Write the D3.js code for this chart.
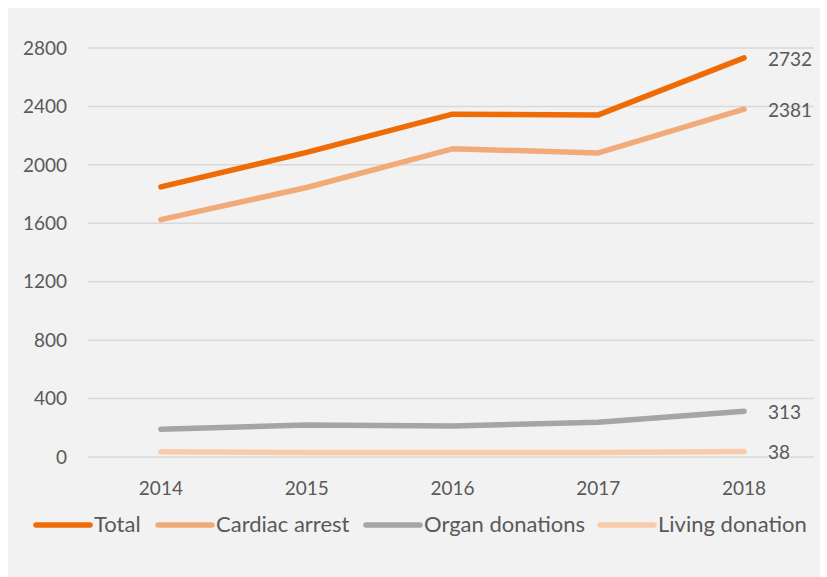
<!DOCTYPE html>
<html>
<head>
<meta charset="utf-8">
<script src="https://cdn.jsdelivr.net/npm/d3@7"></script>
<style>
  body { margin: 0; background: #fff; }
  text { font-family: Lato, "Open Sans", sans-serif; fill: #595959; }
</style>
</head>
<body>
<svg width="827" height="577"></svg>
<script>
const years = ["2014", "2015", "2016", "2017", "2018"];
const total = [1849, 2085, 2347, 2342, 2732];
const cardiac = [1625, 1845, 2110, 2082, 2381];
const organ = [190, 219, 212, 238, 313];
const living = [36, 30, 31, 30, 38];
const yTicks = [0, 400, 800, 1200, 1600, 2000, 2400, 2800];

const series = [
  { name: "Total", values: total, color: "#ee6b05" },
  { name: "Cardiac arrest", values: cardiac, color: "#f1ab79" },
  { name: "Organ donations", values: organ, color: "#a5a5a5" },
  { name: "Living donation", values: living, color: "#f8cbad" }
];

const svg = d3.select("svg");

svg.append("rect")
  .attr("x", 8).attr("y", 8)
  .attr("width", 812).attr("height", 569)
  .attr("fill", "#f2f2f2");

const x = d3.scaleBand()
  .domain(years)
  .range([88, 817]);

const y = d3.scaleLinear()
  .domain([0, 2800])
  .range([457, 48]);

// gridlines
svg.append("g")
  .selectAll("line")
  .data(yTicks)
  .enter().append("line")
  .attr("x1", 88).attr("x2", 814)
  .attr("y1", d => y(d)).attr("y2", d => y(d))
  .style("stroke", "#d9d9d9")
  .style("stroke-width", "1.5px");

// y labels
svg.append("g")
  .selectAll("text")
  .data(yTicks)
  .enter().append("text")
  .attr("x", 67)
  .attr("y", d => y(d))
  .attr("dy", ".35em")
  .attr("text-anchor", "end")
  .style("font-size", "19px")
  .text(d => d);

// x labels
svg.append("g")
  .selectAll("text")
  .data(years)
  .enter().append("text")
  .attr("x", d => x(d) + x.bandwidth() / 2)
  .attr("y", 488)
  .attr("dy", ".35em")
  .attr("text-anchor", "middle")
  .style("font-size", "19px")
  .text(d => d);

const line = d3.line()
  .x((d, i) => x(years[i]) + x.bandwidth() / 2)
  .y(d => y(d));

// draw bottom series first so Total sits on top
svg.append("g")
  .selectAll("path")
  .data(series.slice().reverse())
  .enter().append("path")
  .attr("d", d => line(d.values))
  .attr("fill", "none")
  .style("stroke", d => d.color)
  .style("stroke-width", "5.5px")
  .style("stroke-linecap", "round")
  .style("stroke-linejoin", "round");

// end labels
svg.append("g")
  .selectAll("text")
  .data(series)
  .enter().append("text")
  .attr("x", 768)
  .attr("y", d => y(d.values[d.values.length - 1]) + 1)
  .attr("dy", ".35em")
  .style("font-size", "19px")
  .text(d => d.values[d.values.length - 1]);

// legend
const legendX = [33, 155, 363, 597];
const legend = svg.append("g")
  .selectAll("g")
  .data(series)
  .enter().append("g")
  .attr("transform", (d, i) => `translate(${legendX[i]},525)`);

legend.append("line")
  .attr("x1", 3).attr("x2", 57)
  .attr("y1", 0).attr("y2", 0)
  .style("stroke", d => d.color)
  .style("stroke-width", "5.5px")
  .style("stroke-linecap", "round");

legend.append("text")
  .attr("x", 61)
  .attr("dy", ".33em")
  .style("font-size", "22px")
  .text(d => d.name);
</script>
</body>
</html>
